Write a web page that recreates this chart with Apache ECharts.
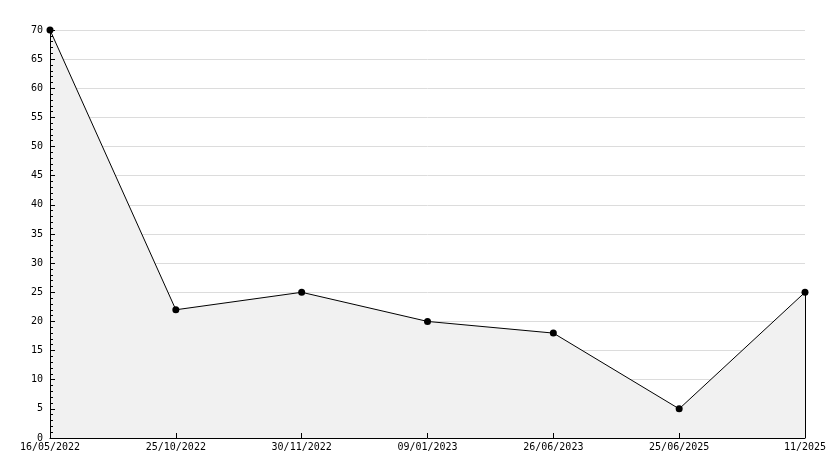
<!DOCTYPE html>
<html>
<head>
<meta charset="utf-8">
<script src="https://cdn.jsdelivr.net/npm/echarts@6/dist/echarts.min.js"></script>
<style>
  html, body { margin: 0; padding: 0; background: #fff; }
  #chart { width: 834px; height: 468px; }
</style>
</head>
<body>
<div id="chart"></div>
<script>
// dates along the bottom
var dates = ["16/05/2022", "25/10/2022", "30/11/2022", "09/01/2023", "26/06/2023", "25/06/2025", "11/2025"];
// values
var values = [70, 22, 25, 20, 18, 5, 25];

var chart = echarts.init(document.getElementById("chart"));
var font = "DejaVu Sans Mono";

chart.setOption({
  animation: false,
  grid: { left: 50, right: 29, top: 30, bottom: 30 },
  xAxis: {
    type: "category",
    data: dates,
    boundaryGap: false,
    z: 20,
    axisLine: { lineStyle: { color: "#000", width: 1 } },
    axisTick: { inside: true, length: 5, lineStyle: { color: "#000" } },
    axisLabel: { color: "#000", fontFamily: font, fontSize: 10, margin: 4, interval: 0 },
    splitLine: { show: false }
  },
  yAxis: [{
    // grid lines only, kept under the filled area
    type: "value",
    min: 0,
    max: 70,
    interval: 5,
    position: "left",
    z: 0,
    axisLine: { show: false },
    axisTick: { show: false },
    axisLabel: { show: false },
    splitLine: { show: true, lineStyle: { color: "#dcdcdc", width: 1 } }
  }, {
    // axis line, ticks and labels on top
    type: "value",
    min: 0,
    max: 70,
    interval: 5,
    position: "left",
    z: 20,
    axisLine: { show: true, lineStyle: { color: "#000", width: 1 } },
    axisTick: { show: true, inside: true, length: 5, lineStyle: { color: "#000" } },
    minorTick: { show: true, splitNumber: 5, length: 3, lineStyle: { color: "#000" } },
    axisLabel: { color: "#000", fontFamily: font, fontSize: 10, margin: 7 },
    splitLine: { show: false }
  }],
  series: [{
    type: "line",
    data: values,
    symbol: "circle",
    symbolSize: 7,
    z: 5,
    itemStyle: { color: "#000" },
    lineStyle: { color: "#000", width: 1 },
    areaStyle: { color: "#f1f1f1", opacity: 1 },
    markLine: {
      // right edge of the filled area
      silent: true,
      symbol: "none",
      label: { show: false },
      lineStyle: { color: "#000", width: 1, type: "solid" },
      data: [[
        { coord: [dates.length - 1, 0] },
        { coord: [dates.length - 1, values[values.length - 1]] }
      ]]
    }
  }]
});
</script>
</body>
</html>
